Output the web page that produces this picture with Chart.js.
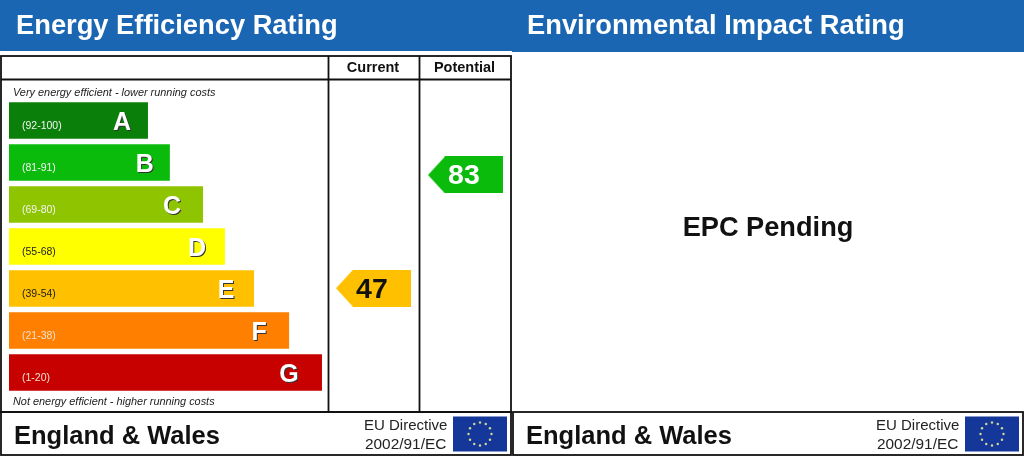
<!DOCTYPE html>
<html>
<head>
<meta charset="utf-8">
<title>Energy Performance Certificate</title>
<script src="https://cdn.jsdelivr.net/npm/chart.js@4"></script>
<style>
  html, body { margin: 0; padding: 0; background: #fff; overflow: hidden; }
  canvas { display: block; }
</style>
</head>
<body>
<canvas id="epc" width="1024" height="457"></canvas>
<script>
const bands = ['A', 'B', 'C', 'D', 'E', 'F', 'G'];
const ranges = ['(92-100)', '(81-91)', '(69-80)', '(55-68)', '(39-54)', '(21-38)', '(1-20)'];
const bandMins = [92, 81, 69, 55, 39, 21, 1];
const bandMaxes = [100, 91, 80, 68, 54, 38, 20];
const barLengths = [44.4, 51.4, 62, 69, 78.3, 89.5, 100];
const barColors = ['#0a7f0a', '#0bbb0b', '#8fc400', '#ffff00', '#ffc000', '#ff8000', '#c70000'];
const rangeColors = ['#f4f4f4', '#f4f4f4', '#f4f4f4', '#222', '#222', '#f4e0d0', '#f4e0d0'];
const letterInsets = [26, 25, 31, 28, 28, 30, 33];
const columns = ['Current', 'Potential'];
const ratings = [47, 83];
const ratingTextColors = ['#111', '#fff'];

const FONT = '"Liberation Sans", Arial, sans-serif';
const BLUE = '#1a66b2';

function bandIndex(score) {
  return bandMins.findIndex(m => score >= m);
}

// row position of a score: the arrow slides inside its band
function rowOf(score) {
  const i = bandIndex(score);
  const mid = (bandMins[i] + bandMaxes[i]) / 2;
  return i + (mid - score) / (bandMaxes[i] - bandMins[i] + 1);
}

// arrow marker for the rating columns, used as a point style
function arrowImage(color) {
  const w = 75, h = 37;
  const c = document.createElement('canvas');
  c.width = w; c.height = h;
  const g = c.getContext('2d');
  g.fillStyle = color;
  g.beginPath();
  g.moveTo(0, h / 2);
  g.lineTo(17, 0);
  g.lineTo(w, 0);
  g.lineTo(w, h);
  g.lineTo(17, h);
  g.closePath();
  g.fill();
  return c;
}

function text(ctx, str, x, y, font, color, align) {
  ctx.font = font;
  ctx.fillStyle = color;
  ctx.textAlign = align || 'left';
  ctx.textBaseline = 'alphabetic';
  ctx.fillText(str, x, y);
}

function line(ctx, x1, y1, x2, y2) {
  ctx.beginPath();
  ctx.moveTo(x1, y1);
  ctx.lineTo(x2, y2);
  ctx.stroke();
}

function footer(ctx, left, right) {
  ctx.strokeRect(left, 412, right - left, 43);
  text(ctx, 'England & Wales', left + 13, 444, 'bold 25.5px ' + FONT, '#111');
  text(ctx, 'EU Directive', right - 147, 430, '15px ' + FONT, '#222');
  text(ctx, '2002/91/EC', right - 146, 448.5, '15.4px ' + FONT, '#222');
  const fx = right - 58, fy = 416.5, fw = 54, fh = 35;
  ctx.fillStyle = '#15379a';
  ctx.fillRect(fx, fy, fw, fh);
  ctx.fillStyle = '#d8d890';
  for (let i = 0; i < 12; i++) {
    const a = i * Math.PI / 6;
    ctx.beginPath();
    ctx.arc(fx + fw / 2 + Math.cos(a) * 11.5, fy + fh / 2 + Math.sin(a) * 11.5, 1.2, 0, Math.PI * 2);
    ctx.fill();
  }
}

// header bands, table rules and footers go behind the bars
const frame = {
  id: 'frame',
  beforeDatasetsDraw(chart) {
    const ctx = chart.ctx;
    ctx.save();
    ctx.fillStyle = BLUE;
    ctx.fillRect(0, 0, 512, 51);
    ctx.fillRect(512, 0, 512, 52);
    text(ctx, 'Energy Efficiency Rating', 16, 34, 'bold 27.3px ' + FONT, '#fff');
    text(ctx, 'Environmental Impact Rating', 527, 34, 'bold 27.3px ' + FONT, '#fff');

    ctx.strokeStyle = '#111';
    ctx.lineWidth = 1.8;
    ctx.strokeRect(1, 56, 510, 356);
    line(ctx, 1, 79.5, 511, 79.5);
    line(ctx, 328.5, 56, 328.5, 412);
    line(ctx, 419.5, 56, 419.5, 412);
    footer(ctx, 1, 511);
    footer(ctx, 513, 1023);

    text(ctx, columns[0], 373, 72, 'bold 14.5px ' + FONT, '#111', 'center');
    text(ctx, columns[1], 464.5, 72, 'bold 14.5px ' + FONT, '#111', 'center');
    text(ctx, 'Very energy efficient - lower running costs', 13, 96, 'italic 10.9px ' + FONT, '#222');
    text(ctx, 'Not energy efficient - higher running costs', 13, 405, 'italic 10.9px ' + FONT, '#222');
    text(ctx, 'EPC Pending', 768, 236, 'bold 27.2px ' + FONT, '#111', 'center');
    ctx.restore();
  },
  afterDatasetsDraw(chart) {
    const ctx = chart.ctx;
    ctx.save();
    chart.getDatasetMeta(0).data.forEach((bar, i) => {
      text(ctx, ranges[i], 22, bar.y + 8.5, '10.5px ' + FONT, rangeColors[i]);
      const letterFont = 'bold 25px ' + FONT;
      const cx = bar.x - letterInsets[i];
      text(ctx, bands[i], cx + 1, bar.y + 10.5, letterFont, '#333', 'center');
      text(ctx, bands[i], cx, bar.y + 9.5, letterFont, '#fff', 'center');
    });
    chart.getDatasetMeta(1).data.forEach((pt, i) => {
      text(ctx, String(ratings[i]), pt.x - 1.5, pt.y + 9.5, 'bold 28.5px ' + FONT, ratingTextColors[i], 'center');
    });
    ctx.restore();
  }
};

new Chart(document.getElementById('epc'), {
  data: {
    labels: bands,
    datasets: [
      {
        type: 'bar',
        label: 'Band',
        data: barLengths,
        backgroundColor: barColors,
        grouped: false,
        barPercentage: 0.87,
        categoryPercentage: 1,
        xAxisID: 'x',
        yAxisID: 'y'
      },
      {
        type: 'line',
        label: 'Rating',
        showLine: false,
        clip: false,
        data: ratings.map((r, i) => ({ x: i + 1, y: rowOf(r) })),
        pointStyle: ratings.map(r => arrowImage(barColors[bandIndex(r)])),
        xAxisID: 'xCol',
        yAxisID: 'yRow'
      }
    ]
  },
  options: {
    indexAxis: 'y',
    responsive: false,
    animation: false,
    devicePixelRatio: 1,
    layout: { padding: { left: 9, right: 513, top: 99.5, bottom: 63.5 } },
    plugins: { legend: { display: false }, tooltip: { enabled: false } },
    scales: {
      x: { type: 'linear', axis: 'x', display: false, min: 0, max: 160.4 },
      // column 1 is Current, column 2 is Potential
      xCol: { type: 'linear', axis: 'x', display: false, min: -2.962, max: 2.495 },
      y: { type: 'category', axis: 'y', display: false, offset: true, labels: bands },
      yRow: { type: 'linear', axis: 'y', display: false, reverse: true, min: -0.524, max: 6.476 }
    }
  },
  plugins: [frame]
});
</script>
</body>
</html>
